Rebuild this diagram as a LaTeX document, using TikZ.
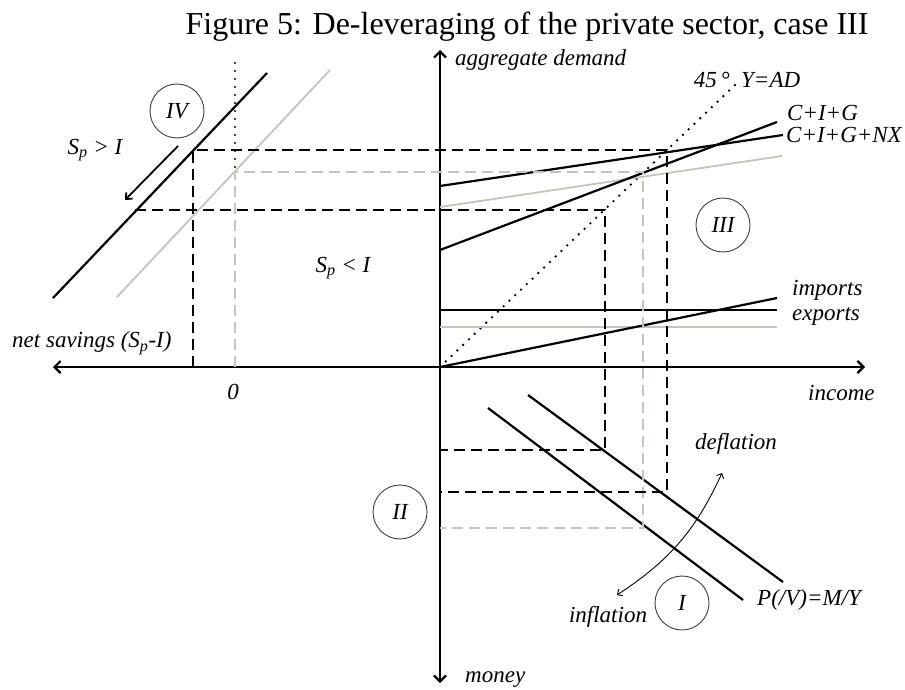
\documentclass[tikz,border=0pt]{standalone}
\usepackage{fontspec}
\setmainfont{Liberation Serif}
\usepackage{xcolor}
\usetikzlibrary{arrows.meta}
\definecolor{shiftgrey}{RGB}{196,196,186}

\begin{document}
\begin{tikzpicture}[
    x=1pt, y=-1pt,
    curve/.style={line width=2.2pt},
    oldcurve/.style={line width=1.8pt, draw=shiftgrey},
    guide/.style={line width=2.2pt, dash pattern=on 11pt off 6pt},
    oldguide/.style={line width=1.8pt, draw=shiftgrey, dash pattern=on 11pt off 6pt},
    dots/.style={line width=2.6pt, line cap=round, dash pattern=on 0pt off 8pt},
    axis/.style={line width=2.2pt,
      {Straight Barb[length=6pt,width=12pt]}-{Straight Barb[length=6pt,width=12pt]}},
    quad/.style={circle, draw=black!75, line width=0.9pt, minimum size=54pt,
      inner sep=0pt, font=\fontsize{23}{25}\selectfont\itshape},
    lbl/.style={font=\fontsize{23}{25}\selectfont\itshape, inner sep=0pt},
]
\useasboundingbox (0,0) rectangle (905,690);

% Title
\node[font=\fontsize{32}{35}\selectfont] (title) at (527,27)
  {Figure 5: De-leveraging of the private sector, case III};

% Axes
\coordinate (O) at (440,367);
\draw[axis] (440,683) -- (440,50);
\draw[axis] (53,367) -- (865,367);

% Axis labels
\node[lbl, anchor=west] (agg) at (455,60) {aggregate demand};
\node[lbl, anchor=west] (inc) at (808,393) {income};
\node[lbl, anchor=west] (mon) at (465,680) {money};
\node[lbl, anchor=west] (sav) at (12,343)
  {net savings (S\textsubscript{p}-I)};
\node[lbl] (zero) at (233,392) {0};

% Quadrant III: demand side
\draw[dots] (O) -- (735,85);
\node[lbl, anchor=east] (deg) at (730,80) {45\,°};
\node[lbl, anchor=west] (yad) at (741,80) {Y=AD};
\draw[oldcurve] (440,207) -- (782,156);
\draw[curve] (440,250) -- (777,122);
\draw[curve] (440,186) -- (783,135);
\node[lbl, anchor=west] (cig) at (787,113) {C+I+G};
\node[lbl, anchor=west] (cignx) at (786,135) {C+I+G+NX};

% Trade
\draw[oldcurve] (440,327) -- (777,327);
\draw[curve] (440,310) -- (777,310);
\draw[curve] (O) -- (777,298);
\node[lbl, anchor=west] (imp) at (792,290) {imports};
\node[lbl, anchor=west] (exp) at (792,316) {exports};

% Quadrant IV: net savings
\draw[oldcurve] (330,70) -- (117,297);
\draw[curve] (267,73) -- (53,298);
\draw[line width=1.8pt, -{Straight Barb[length=5pt,width=9pt]}]
  (178,146) -- (125,200);
\draw[dots, line width=2.2pt] (235,63) -- (235,172);
\node[lbl] (spgt) at (95,150) {S\textsubscript{p} > I};
\node[lbl] (splt) at (343,268) {S\textsubscript{p} < I};

% Quadrant I: quantity equation
\draw[curve] (488,408) -- (743,600);
\draw[curve] (528,395) -- (783,582);
\node[lbl, anchor=west] (qty) at (757,600) {P(/V)=M/Y};
\draw[line width=0.9pt,
  {Straight Barb[length=4pt,width=8pt]}-{Straight Barb[length=4pt,width=8pt]}]
  (617,595) to[bend right=16] (722,473);
\node[lbl] (defl) at (736,444) {deflation};
\node[lbl] (infl) at (608,617) {inflation};

% Guide lines
\draw[oldguide] (235,367) -- (235,172) -- (643,172) -- (643,528) -- (440,528);
\draw[guide] (193,367) -- (193,150) -- (667,150) -- (667,492) -- (440,492);
\draw[guide] (135,210) -- (605,210) -- (605,450) -- (440,450);

% Quadrant markers
\node[quad] (qIV) at (177,111) {IV};
\node[quad] (qIII) at (723,225) {III};
\node[quad] (qII) at (400,512) {II};
\node[quad] (qI) at (682,603) {I};

\end{tikzpicture}
\end{document}
